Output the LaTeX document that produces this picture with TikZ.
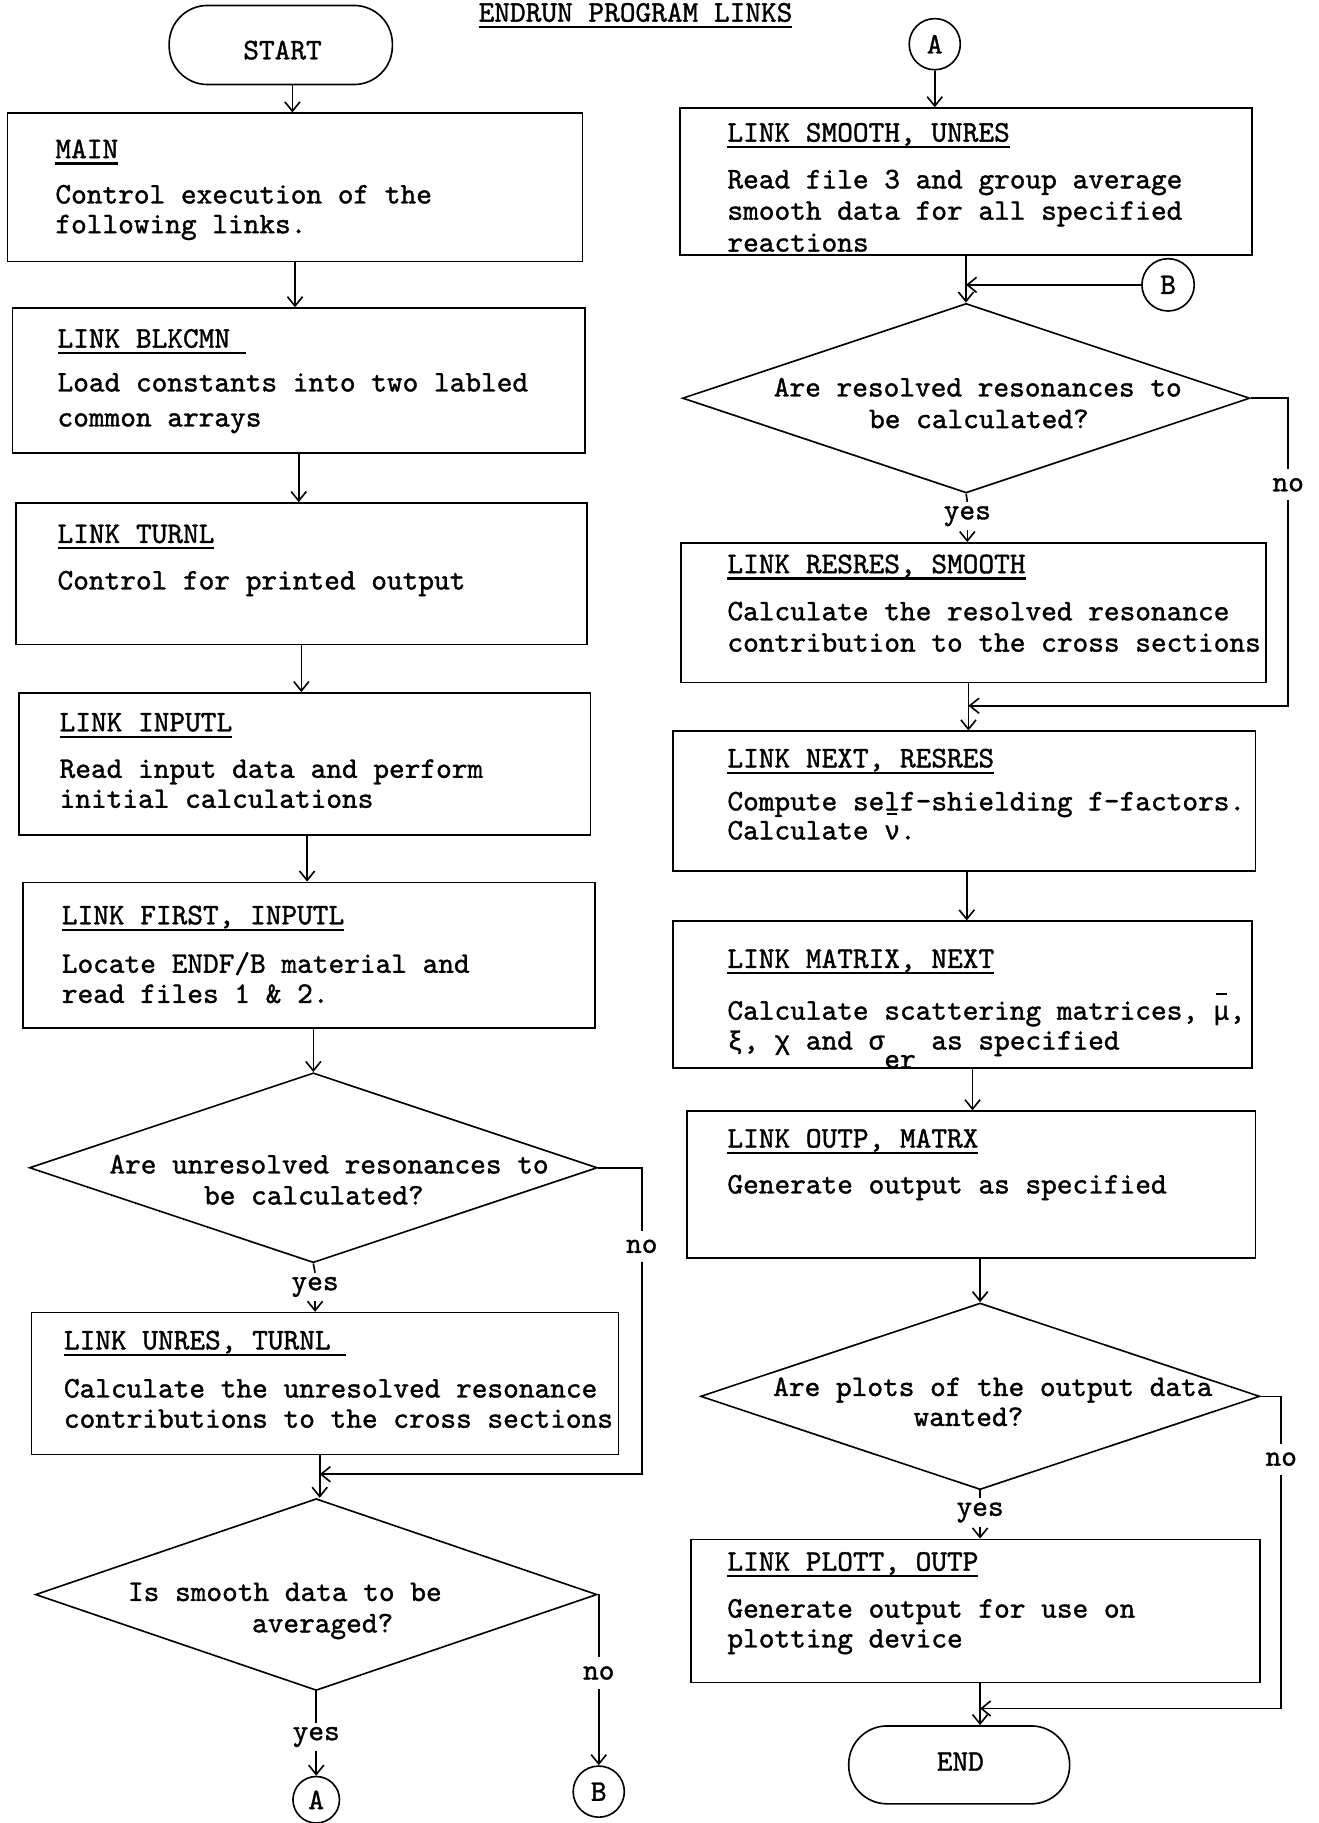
\documentclass[tikz,border=0pt]{standalone}
\usepackage{fontspec}
\setmonofont{lmmono10-regular.otf}[FakeBold=1.2]
\newfontfamily\grk{Liberation Mono}[Scale=0.875,FakeBold=1.2]
\usetikzlibrary{arrows.meta,shapes.geometric,fit}
\newcommand\ulx[1]{\setbox0\hbox{#1}\rlap{\rule[-5.5pt]{\wd0}{1.8pt}}\box0}
\newcommand\ovb[1]{\rlap{\hspace{2pt}\rule[21pt]{9pt}{1.8pt}}#1}
\begin{document}
\begin{tikzpicture}[x=1pt,y=-1pt,line width=1.4pt,
  every node/.style={font=\fontsize{25.7}{30}\selectfont\ttfamily, inner sep=0pt},
  box/.style={draw, rectangle, inner sep=0pt, fit={#1}},
  dia/.style={draw, diamond, inner sep=0pt},
  conn/.style={draw, circle, inner sep=0pt, minimum size=#1},
  term/.style={draw, rectangle, rounded corners=33pt, minimum width=192pt, minimum height=68pt},
  tl/.style={anchor=base west},
  dt/.style={anchor=base},
  yeslab/.style={inner sep=3pt},
  nolab/.style={inner sep=7pt},
  arr/.style={-{Straight Barb[length=8pt,width=13pt]}}]
\useasboundingbox (0,0) rectangle (1134,1568);

% title
\node[tl] (title) at (411,18.6) {\ulx{ENDRUN PROGRAM LINKS}};

% ---------------- left column ----------------
\node[term] (start) at (241.5,38.7) {};
\node[dt] (startT) at (243,51) {START};

\node[box={(6.5,97.4) (501,225)}] (main) {};
\node[tl] (mainT) at (47,136) {\ulx{MAIN}};
\node[tl] (mainL1) at (47,175) {Control execution of the};
\node[tl] (mainL2) at (47,200.6) {following links.};

\node[box={(10.9,265) (503,389.5)}] (blk) {};
\node[tl] (blkT) at (48.8,299) {\ulx{LINK BLKCMN\ }};
\node[tl] (blkL1) at (48.8,336.7) {Load constants into two labled};
\node[tl] (blkL2) at (48.8,366.8) {common arrays};

\node[box={(13.7,432.6) (504.7,554.5)}] (turnl) {};
\node[tl] (turnlT) at (48.8,467) {\ulx{LINK TURNL}};
\node[tl] (turnlL1) at (48.8,507) {Control for printed output};

\node[box={(16.3,596) (508,718)}] (inputl) {};
\node[tl] (inputlT) at (50.6,629) {\ulx{LINK INPUTL}};
\node[tl] (inputlL1) at (50.6,669) {Read input data and perform};
\node[tl] (inputlL2) at (50.6,694.8) {initial calculations};

\node[box={(19.9,759) (512,884)}] (first) {};
\node[tl] (firstT) at (52.5,795) {\ulx{LINK FIRST, INPUTL}};
\node[tl] (firstL1) at (52.5,836.7) {Locate ENDF/B material and};
\node[tl] (firstL2) at (52.5,862.6) {read files 1 \& 2.};

\node[dia, minimum width=488.5pt, minimum height=163.3pt] (d1) at (269.5,1004.4) {};
\node[dt] (d1L1) at (283,1009.3) {Are unresolved resonances to};
\node[dt] (d1L2) at (270,1036) {be calculated?};
\node[yeslab] (yes1) at (271,1107) {yes};
\node[nolab] (no1) at (552,1072) {no};

\node[box={(27.2,1129) (532,1251)}] (unres) {};
\node[tl] (unresT) at (54.3,1160.6) {\ulx{LINK UNRES, TURNL\ }};
\node[tl] (unresL1) at (54.3,1202) {Calculate the unresolved resonance};
\node[tl] (unresL2) at (54.3,1228) {contributions to the cross sections};

\coordinate (m1) at (275,1268);

\node[dia, minimum width=483pt, minimum height=165pt] (d2) at (272,1371.5) {};
\node[dt] (d2L1) at (245,1377) {Is smooth data to be};
\node[dt] (d2L2) at (277.5,1404) {averaged?};
\node[yeslab] (yes2) at (272,1494) {yes};
\node[nolab] (no2) at (515,1439) {no};
\node[conn=40pt] (a2) at (272,1548) {A};
\node[conn=44pt] (b2) at (515,1541) {B};

% ---------------- right column ----------------
\node[conn=44pt] (a1) at (804,38) {A};

\node[box={(584.7,93) (1077,219.2)}] (smooth) {};
\node[tl] (smoothT) at (625,121.8) {\ulx{LINK SMOOTH, UNRES}};
\node[tl] (smoothL1) at (625,162) {Read file 3 and group average};
\node[tl] (smoothL2) at (625,189) {smooth data for all specified};
\node[tl] (smoothL3) at (625,216.4) {reactions};

\node[conn=45pt, text depth=-9pt] (b1) at (1004.7,245) {B};

\node[dia, minimum width=488pt, minimum height=163pt] (d3) at (831,342.5) {};
\node[dt] (d3L1) at (841,341) {Are resolved resonances to};
\node[dt] (d3L2) at (842,368.2) {be calculated?};
\node[yeslab] (yes3) at (832,444) {yes};
\node[nolab] (no3) at (1108,417) {no};

\node[box={(586,467) (1089,587)}] (resres) {};
\node[tl] (resresT) at (625,493) {\ulx{LINK RESRES, SMOOTH}};
\node[tl] (resresL1) at (625,533.5) {Calculate the resolved resonance};
\node[tl] (resresL2) at (625,560.5) {contribution to the cross sections};

\coordinate (m4) at (833,607);

\node[box={(579,629) (1080,749.4)}] (next) {};
\node[tl] (nextT) at (625,660) {\ulx{LINK NEXT, RESRES}};
\node[tl] (nextL1) at (625,697) {Compute self-shielding f-factors.};
\node[tl] (nextL2) at (625,722) {Calculate \ovb{{\grk ν}}.};

\node[box={(579,792.4) (1077,918.5)}] (matrix) {};
\node[tl] (matrixT) at (625,832.5) {\ulx{LINK MATRIX, NEXT}};
\node[tl] (matrixL1) at (625,877) {Calculate scattering matrices, \ovb{{\grk μ}},};
\node[tl] (matrixL2) at (625,902.7) {{\grk ξ}, {\grk χ} and {\grk σ}\raisebox{-16pt}{er} as specified};

\node[box={(591,955.7) (1080,1081.8)}] (outp) {};
\node[tl] (outpT) at (625,987) {\ulx{LINK OUTP, MATRX}};
\node[tl] (outpL1) at (625,1026.5) {Generate output as specified};

\node[dia, minimum width=481pt, minimum height=160.5pt] (d4) at (843,1201) {};
\node[dt] (d4L1) at (854,1200.7) {Are plots of the output data};
\node[dt] (d4L2) at (833,1226.5) {wanted?};
\node[yeslab] (yes4) at (843,1301) {yes};
\node[nolab] (no4) at (1102,1255) {no};

\node[box={(594.5,1324) (1084,1447)}] (plott) {};
\node[tl] (plottT) at (625,1351) {\ulx{LINK PLOTT, OUTP}};
\node[tl] (plottL1) at (625,1391.3) {Generate output for use on};
\node[tl] (plottL2) at (625,1417) {plotting device};

\coordinate (m5) at (843,1469.5);

\node[term, minimum width=190pt, minimum height=67pt] (end) at (825,1518) {};
\node[dt] (endT) at (826,1523) {END};

% ---------------- connectors, left ----------------
\draw[arr] ([xshift=10pt]start.south) coordinate (s0) -- (s0 |- main.north);
\draw[arr] (main.south) -- (main.south |- blk.north);
\draw[arr] (blk.south) -- (blk.south |- turnl.north);
\draw[arr] (turnl.south) -- (turnl.south |- inputl.north);
\draw[arr] ([xshift=2pt]inputl.south) coordinate (s1) -- (s1 |- first.north);
\draw[arr] (first.south -| d1.north) -- (d1.north);
\draw (d1.south) -- (yes1.north);
\draw[arr] (yes1.south) -- (yes1.south |- unres.north);
\draw (d1.east) -| (no1.north);
\draw[arr] (no1.south) |- (m1);
\draw[arr] (m1 |- unres.south) -- (m1 |- d2.north);
\draw (d2.south) -- (yes2.north);
\draw[arr] (yes2.south) -- (a2.north);
\draw (d2.east) -| (no2.north);
\draw[arr] (no2.south) -- (b2.north);

% ---------------- connectors, right ----------------
\draw[arr] (a1.south) -- (a1.south |- smooth.north);
\draw[arr] (smooth.south) -- (smooth.south |- d3.north);
\draw[arr] (b1.west) -- (b1.west -| smooth.south);
\draw (d3.south) -- (yes3.north);
\draw[arr] (yes3.south) -- (yes3.south |- resres.north);
\draw (d3.east) -| (no3.north);
\draw[arr] (no3.south) |- (m4);
\draw[arr] (m4 |- resres.south) -- (m4 |- next.north);
\draw[arr] ([xshift=2pt]next.south) coordinate (s2) -- (s2 |- matrix.north);
\draw[arr] ([xshift=8.5pt]matrix.south) coordinate (s3) -- (s3 |- outp.north);
\draw[arr] (outp.south -| d4.north) -- (d4.north);
\draw (d4.south) -- (yes4.north);
\draw[arr] (yes4.south) -- (yes4.south |- plott.north);
\draw (d4.east) -| (no4.north);
\draw[arr] (no4.south) |- (m5);
\draw[arr] (m5 |- plott.south) -- (m5 |- end.north);
\end{tikzpicture}
\end{document}
